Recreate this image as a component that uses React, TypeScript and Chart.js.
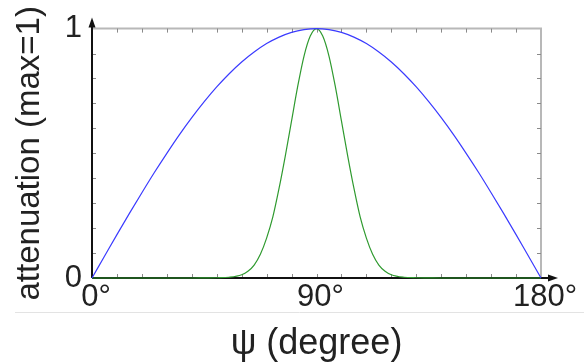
import React, { useEffect, useRef } from "react";
import { Chart, registerables } from "chart.js";

Chart.register(...registerables);

// ψ angles (degrees) and attenuation values
const blueAngles = [0, 5, 10, 15, 20, 25, 30, 35, 40, 45, 50, 55, 60, 65, 70, 75, 80, 85, 90,
  95, 100, 105, 110, 115, 120, 125, 130, 135, 140, 145, 150, 155, 160, 165, 170, 175, 180];
const blueValues = [0, 0.087, 0.174, 0.259, 0.342, 0.423, 0.5, 0.574, 0.643, 0.707, 0.766, 0.819, 0.866, 0.906, 0.94, 0.966, 0.985, 0.996, 1,
  0.996, 0.985, 0.966, 0.94, 0.906, 0.866, 0.819, 0.766, 0.707, 0.643, 0.574, 0.5, 0.423, 0.342, 0.259, 0.174, 0.087, 0];

const greenAngles = [0, 40, 45, 50, 55, 60, 62.5, 65, 67.5, 70, 72.5, 75, 77.5, 80, 82.5, 85, 87.5, 90,
  92.5, 95, 97.5, 100, 102.5, 105, 107.5, 110, 112.5, 115, 117.5, 120, 125, 130, 135, 140, 180];
const greenValues = [0, 0, 0.0005, 0.001, 0.003, 0.013, 0.027, 0.052, 0.095, 0.16, 0.245, 0.36, 0.49, 0.63, 0.77, 0.89, 0.97, 1,
  0.97, 0.89, 0.77, 0.63, 0.49, 0.36, 0.245, 0.16, 0.095, 0.052, 0.027, 0.013, 0.003, 0.001, 0.0005, 0, 0];

const xLabeledTicks = [0, 90, 180];
const yLabeledTicks = [0, 1];
const xMinorTicks = [10, 20, 30, 40, 50, 60, 70, 80, 90, 100, 110, 120, 130, 140, 150, 160, 170];
const yMinorTicks = [0.1, 0.2, 0.3, 0.4, 0.5, 0.6, 0.7, 0.8, 0.9];

const FONT = "'Liberation Sans', Arial, sans-serif";

const framePlugin = {
  id: "frame",
  beforeDatasetsDraw(chart: any) {
    const { ctx, chartArea: a, scales } = chart;
    const xs = scales.x;
    const ys = scales.y;
    ctx.save();
    // light gray top/right frame
    ctx.strokeStyle = "#b8b8b8";
    ctx.lineWidth = 2;
    ctx.beginPath();
    ctx.moveTo(a.left, a.top);
    ctx.lineTo(a.right, a.top);
    ctx.lineTo(a.right, a.bottom);
    ctx.stroke();
    // inward minor ticks
    ctx.strokeStyle = "#8a8a8a";
    ctx.lineWidth = 1;
    ctx.beginPath();
    for (const v of xMinorTicks) {
      const px = Math.round(xs.getPixelForValue(v)) + 0.5;
      ctx.moveTo(px, a.top);
      ctx.lineTo(px, a.top + 4);
      ctx.moveTo(px, a.bottom);
      ctx.lineTo(px, a.bottom - 4);
    }
    for (const v of yMinorTicks) {
      const py = Math.round(ys.getPixelForValue(v)) + 0.5;
      ctx.moveTo(a.left, py);
      ctx.lineTo(a.left + 4, py);
      ctx.moveTo(a.right, py);
      ctx.lineTo(a.right - 4, py);
    }
    ctx.stroke();
    // black axes with arrows
    ctx.strokeStyle = "#111";
    ctx.fillStyle = "#111";
    ctx.lineWidth = 2;
    ctx.beginPath();
    ctx.moveTo(a.left, a.bottom);
    ctx.lineTo(a.left, a.top - 4);
    ctx.moveTo(a.left, a.bottom);
    ctx.lineTo(a.right + 10, a.bottom);
    ctx.stroke();
    ctx.beginPath();
    ctx.moveTo(a.left, a.top - 11);
    ctx.lineTo(a.left - 3.5, a.top - 1);
    ctx.lineTo(a.left + 3.5, a.top - 1);
    ctx.closePath();
    ctx.fill();
    ctx.beginPath();
    ctx.moveTo(a.right + 17, a.bottom);
    ctx.lineTo(a.right + 7, a.bottom - 3.5);
    ctx.lineTo(a.right + 7, a.bottom + 3.5);
    ctx.closePath();
    ctx.fill();
    ctx.restore();
  },
  afterDraw(chart: any) {
    const { ctx, chartArea: a, width } = chart;
    ctx.save();
    ctx.strokeStyle = "#e3e3e3";
    ctx.lineWidth = 1;
    ctx.beginPath();
    const y = Math.round(a.bottom + 34) + 0.5;
    ctx.moveTo(15, y);
    ctx.lineTo(width, y);
    ctx.stroke();
    ctx.restore();
  },
};

export default function App() {
  const ref = useRef<HTMLCanvasElement | null>(null);

  useEffect(() => {
    document.body.style.margin = "0";
    const canvas = ref.current;
    if (!canvas) return;
    const chart = new Chart(canvas, {
      type: "line",
      data: {
        datasets: [
          {
            data: blueAngles.map((a, i) => ({ x: a, y: blueValues[i] })),
            borderColor: "#3b3bff",
            borderWidth: 1.2,
            pointRadius: 0,
            cubicInterpolationMode: "monotone",
            clip: 4,
          },
          {
            data: greenAngles.map((a, i) => ({ x: a, y: greenValues[i] })),
            borderColor: "#2f9a2f",
            borderWidth: 1.2,
            pointRadius: 0,
            cubicInterpolationMode: "monotone",
            clip: 4,
          },
        ],
      },
      options: {
        animation: false,
        responsive: false,
        devicePixelRatio: 1,
        layout: { padding: { top: 27, right: 43, left: 0, bottom: 0 } },
        plugins: { legend: { display: false }, tooltip: { enabled: false } },
        scales: {
          x: {
            type: "linear",
            min: 0,
            max: 180,
            afterFit: (s: any) => {
              s.height = 84;
            },
            grid: { display: false, drawTicks: false },
            border: { display: false },
            ticks: {
              stepSize: 10,
              autoSkip: false,
              maxRotation: 0,
              padding: 1,
              labelOffset: 4,
              color: "#222",
              font: { family: FONT, size: 31 },
              callback: (v: any) => (xLabeledTicks.includes(v) ? `${v}°` : ""),
            },
            title: {
              display: true,
              text: "ψ (degree)",
              color: "#222",
              font: { family: FONT, size: 36, lineHeight: 1 },
              padding: { top: 0, bottom: 0 },
            },
          },
          y: {
            type: "linear",
            min: 0,
            max: 1,
            afterFit: (s: any) => {
              s.width = 92;
            },
            grid: { display: false, drawTicks: false },
            border: { display: false },
            ticks: {
              stepSize: 0.1,
              autoSkip: false,
              padding: 10,
              color: "#222",
              font: { family: FONT, size: 31 },
              callback: (v: any) => (yLabeledTicks.includes(v) ? String(v) : ""),
            },
            title: {
              display: true,
              text: "attenuation (max=1)",
              color: "#222",
              font: { family: FONT, size: 33, lineHeight: 1 },
              padding: { top: 13, bottom: 0 },
            },
          },
        },
      },
      plugins: [framePlugin],
    } as any);
    return () => chart.destroy();
  }, []);

  return (
    <div style={{ width: 584, height: 362 }}>
      <canvas ref={ref} width={584} height={362} style={{ display: "block" }} />
    </div>
  );
}
